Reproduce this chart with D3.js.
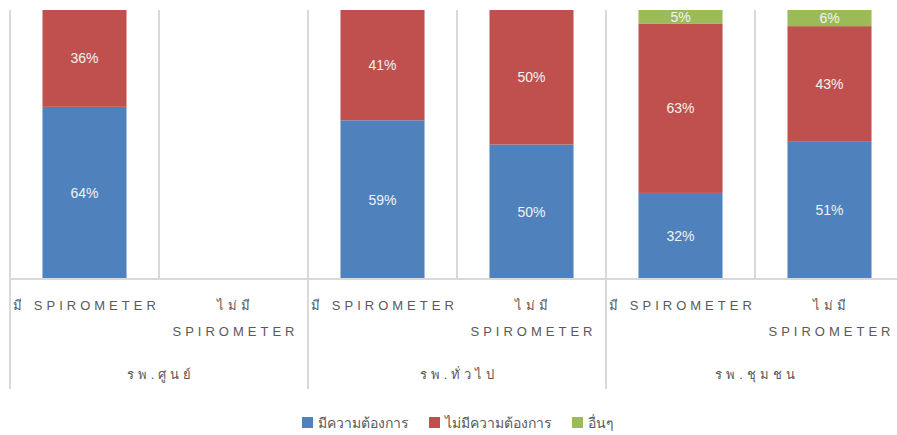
<!DOCTYPE html>
<html>
<head>
<meta charset="utf-8">
<script src="https://cdn.jsdelivr.net/npm/d3@7/dist/d3.min.js"></script>
<style>
  html, body { margin: 0; padding: 0; background: #fff; }
  svg { display: block; font-family: "Liberation Sans", Arial, sans-serif; }
</style>
</head>
<body>
<svg id="chart" width="897" height="435"></svg>
<script>
// Hospital groups and the Spirometer sub-categories under each
const groups = ["รพ.ศูนย์", "รพ.ทั่วไป", "รพ.ชุมชน"];
const categoryLines = [
  ["มี SPIROMETER"],
  ["ไม่มี", "SPIROMETER"]
];
const categoryKeys = ["c1", "c2", "c3", "c4", "c5", "c6"];
const categoryType = [0, 1, 0, 1, 0, 1];

// Series (shares of each bar, percent)
const seriesNames = ["มีความต้องการ", "ไม่มีความต้องการ", "อื่นๆ"];
const seriesColors = ["#4f81bd", "#c0504d", "#9bbb59"];
const needed    = [64, 0, 59, 50, 32, 51];
const notNeeded = [36, 0, 41, 50, 63, 43];
const other     = [0, 0, 0, 0, 5, 6];

const rows = categoryKeys.map((k, i) => ({
  key: k, s0: needed[i], s1: notNeeded[i], s2: other[i]
}));

const svg = d3.select("#chart");
const plotLeft = 10, plotRight = 904, plotTop = 10, base = 279, groupBottom = 389;

const xCat = d3.scaleBand().domain(categoryKeys).range([plotLeft, plotRight]).padding(0);
const xBar = d3.scaleBand().domain(categoryKeys).range([plotLeft, plotRight])
  .paddingInner(0.436).paddingOuter(0.218);
const y = d3.scaleLinear().domain([0, 100]).range([base, plotTop]);

const gridColor = "#d9d9d9";

// vertical gridlines at category boundaries
const boundaries = d3.range(categoryKeys.length + 1).map(i => plotLeft + i * xCat.step());
svg.append("g").selectAll("line").data(boundaries).join("line")
  .attr("x1", d => d).attr("x2", d => d)
  .attr("y1", plotTop).attr("y2", base)
  .attr("stroke", gridColor).attr("stroke-width", 2);

// stacked bars
const stack = d3.stack().keys(["s0", "s1", "s2"]);
const layers = stack(rows);

const layerG = svg.append("g").selectAll("g").data(layers).join("g")
  .attr("fill", (d, i) => seriesColors[i]);

layerG.selectAll("rect").data(d => d).join("rect")
  .attr("x", d => xBar(d.data.key))
  .attr("width", xBar.bandwidth())
  .attr("y", d => y(d[1]))
  .attr("height", d => y(d[0]) - y(d[1]));

// value labels
const labelG = svg.append("g")
  .attr("font-size", 14).attr("fill", "#f2f2f2").attr("text-anchor", "middle");
layers.forEach((layer, si) => {
  layer.forEach(d => {
    const v = d[1] - d[0];
    const r = d.data;
    const total = r.s0 + r.s1 + r.s2;
    if (v === 0 && (si === 2 || total > 0)) return;
    labelG.append("text")
      .attr("x", xBar(r.key) + xBar.bandwidth() / 2)
      .attr("y", (y(d[0]) + y(d[1])) / 2)
      .attr("dy", "0.35em")
      .attr("fill", v === 0 ? "#ffffff" : null)
      .text(v + "%");
  });
});

// category axis baseline
svg.append("line")
  .attr("x1", plotLeft).attr("x2", 897)
  .attr("y1", base).attr("y2", base)
  .attr("stroke", gridColor).attr("stroke-width", 2);

// group separators extending through the label area
const groupEdges = d3.range(groups.length + 1).map(i => plotLeft + i * 2 * xCat.step());
svg.append("g").selectAll("line").data(groupEdges).join("line")
  .attr("x1", d => d).attr("x2", d => d)
  .attr("y1", base).attr("y2", groupBottom)
  .attr("stroke", gridColor).attr("stroke-width", 2);

// first-level category labels
const spacing = 4;
const catLabels = svg.append("g")
  .attr("font-size", 13).attr("fill", "#595959")
  .attr("text-anchor", "middle").style("letter-spacing", spacing + "px");
categoryKeys.forEach((k, i) => {
  const lines = categoryLines[categoryType[i]];
  const cx = xCat(k) + xCat.bandwidth() / 2 + spacing / 2;
  lines.forEach((ln, j) => {
    catLabels.append("text")
      .attr("x", cx).attr("y", 305 + j * 26)
      .attr("dy", "0.35em").text(ln);
  });
});

// group labels
svg.append("g")
  .attr("font-size", 13).attr("fill", "#595959")
  .attr("text-anchor", "middle").style("letter-spacing", spacing + "px")
  .selectAll("text").data(groups).join("text")
  .attr("x", (d, i) => plotLeft + (i * 2 + 1) * xCat.step() + spacing / 2)
  .attr("y", 374).attr("dy", "0.35em")
  .text(d => d);

// legend
const legend = svg.append("g").attr("font-size", 14).attr("fill", "#595959");
let lx = 302;
seriesNames.forEach((name, i) => {
  legend.append("rect").attr("x", lx).attr("y", 417).attr("width", 11).attr("height", 11)
    .attr("fill", seriesColors[i]);
  const t = legend.append("text").attr("x", lx + 16).attr("y", 423).attr("dy", "0.35em").text(name);
  lx += 16 + t.node().getComputedTextLength() + 20;
});
</script>
</body>
</html>
